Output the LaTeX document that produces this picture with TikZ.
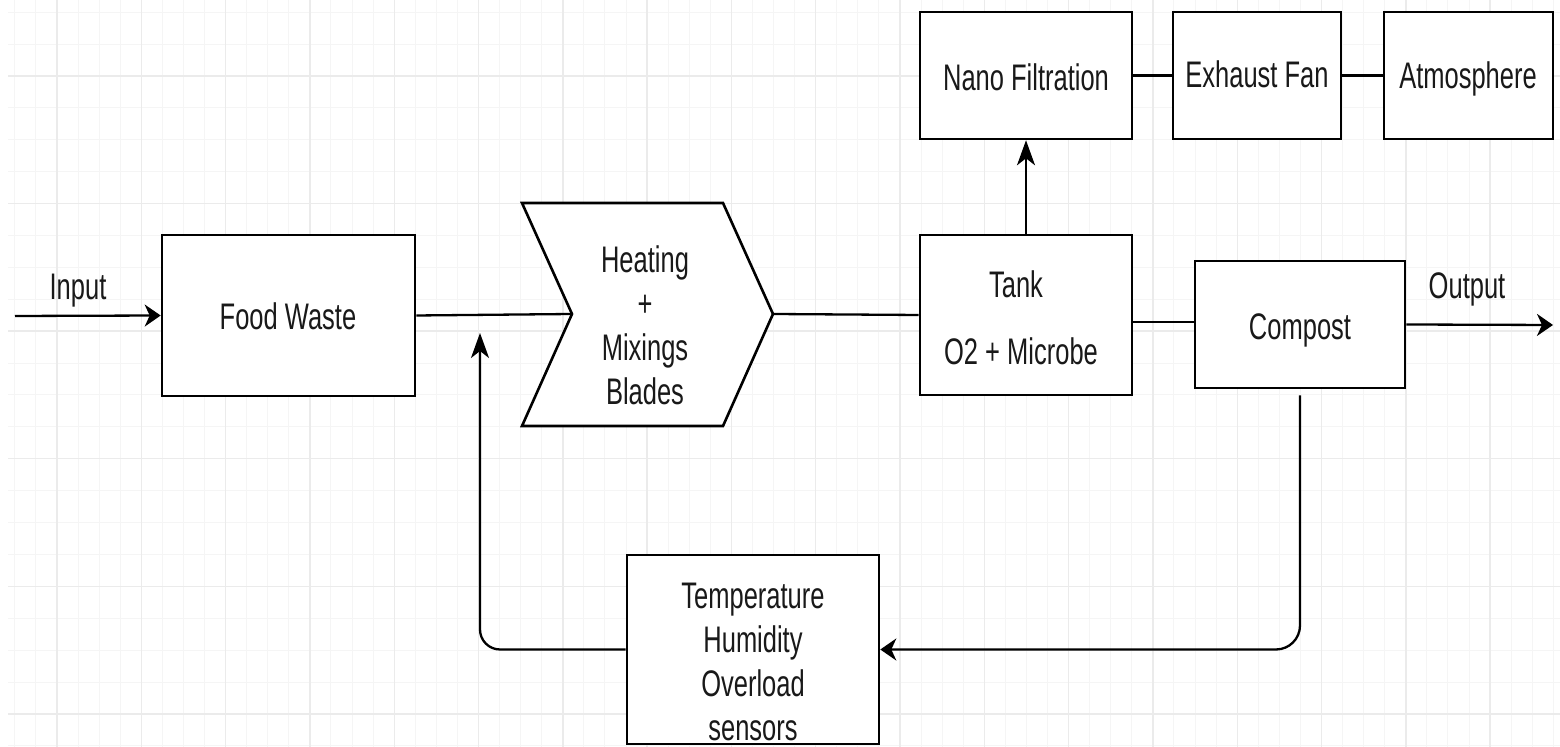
\documentclass[tikz,border=0pt]{standalone}
\usepackage{fontspec}
\setmainfont{Liberation Sans}
\usepackage{graphicx}
\usetikzlibrary{arrows.meta}
\newcommand\stx[1]{\scalebox{1}[1.45]{\begin{tabular}{@{}c@{}}#1\end{tabular}}}
\tikzset{
  minorgrid/.style={draw=black!4, line width=0.5pt},
  majorgrid/.style={draw=black!8, line width=0.7pt},
  box/.style={draw=black, line width=1.3pt, fill=white, inner sep=0pt},
  conn/.style={draw=black, line width=1.15pt},
  harr/.style={conn, -{Stealth[length=8pt, width=11pt, inset=2.5pt]}},
  varr/.style={conn, -{Stealth[length=12.5pt, width=9pt, inset=3.5pt]}},
  txt/.style={font=\fontsize{12.75}{15.2}\selectfont, text=black!90, inner sep=0pt},
}
\begin{document}
\begin{tikzpicture}[x=0.5pt, y=-0.5pt]
\useasboundingbox (0,0) rectangle (1560,747);
\fill[white] (0,0) rectangle (1560,747);
% grid
\foreach \k in {-2,...,71} \draw[minorgrid] ({57+21.075*\k},0) -- ({57+21.075*\k},747);
\foreach \k in {-2,...,21} \draw[minorgrid] (8,{76+31.9*\k}) -- (1560,{76+31.9*\k});
\foreach \k in {0,...,17} \draw[majorgrid] ({57+84.3*\k},0) -- ({57+84.3*\k},747);
\foreach \k in {0,...,5} \draw[majorgrid] (8,{76+127.6*\k}) -- (1560,{76+127.6*\k});

% boxes
\node[box, minimum width=126.5pt, minimum height=80.5pt] (fw) at (288.5,315.5) {};
\node[box, minimum width=106pt, minimum height=63.5pt] (nano) at (1026,75.5) {};
\node[box, minimum width=84pt, minimum height=63.5pt] (fan) at (1257,75.5) {};
\node[box, minimum width=84.5pt, minimum height=63.5pt] (atm) at (1468.5,75.5) {};
\node[box, minimum width=106pt, minimum height=80pt] (tank) at (1026,315) {};
\node[box, minimum width=105pt, minimum height=63.5pt] (compost) at (1300,324.5) {};
\node[box, minimum width=126pt, minimum height=94.5pt] (temp) at (753,649.5) {};

% chevron
\coordinate (hnotch) at (572,314);
\coordinate (htip) at (773,314);
\draw[box] (522,203) -- (723,203) -- (htip) -- (723,426) -- (522,426) -- (hnotch) -- cycle;

% texts
\node[txt] (tfw) at (288,321) {\stx{Food Waste}};
\node[txt] (theat) at (645,330) {\stx{Heating\\+\\Mixings\\Blades}};
\node[txt] (tnano) at (1026,82) {\stx{Nano Filtration}};
\node[txt] (tfan) at (1257,79) {\stx{Exhaust Fan}};
\node[txt] (tatm) at (1468,80) {\stx{Atmosphere}};
\node[txt] (ttank) at (1016,289) {\stx{Tank}};
\node[txt] (tmic) at (1021,356) {\stx{O2 + Microbe}};
\node[txt] (tcomp) at (1300,331) {\stx{Compost}};
\node[txt] (ttemp) at (753,666) {\stx{Temperature\\Humidity\\Overload\\sensors}};
\node[txt] (tin) at (78,291) {\stx{Input}};
\node[txt] (tout) at (1467,290) {\stx{Output}};

% connectors
\coordinate (instart) at (15,316);
\coordinate (outend) at (1553,325);
\coordinate (fbend) at (480,333);
\draw[harr] (instart) -- (fw.west);
\draw[conn] (fw.east) -- (hnotch);
\draw[conn] (htip) -- (tank.west);
\draw[varr] (tank.north) -- (nano.south);
\draw[conn] (nano.east) -- (fan.west);
\draw[conn] (fan.east) -- (atm.west);
\draw[conn] (tank.east |- 0,322) -- (compost.west |- 0,322);
\draw[harr] (compost.east) -- (outend);
\draw[harr, rounded corners=12pt] ([yshift=-3pt]compost.south) -- (compost.south |- temp.east) -- (temp.east);
\draw[varr, rounded corners=10pt] (temp.west) -| (fbend);
\end{tikzpicture}
\end{document}
